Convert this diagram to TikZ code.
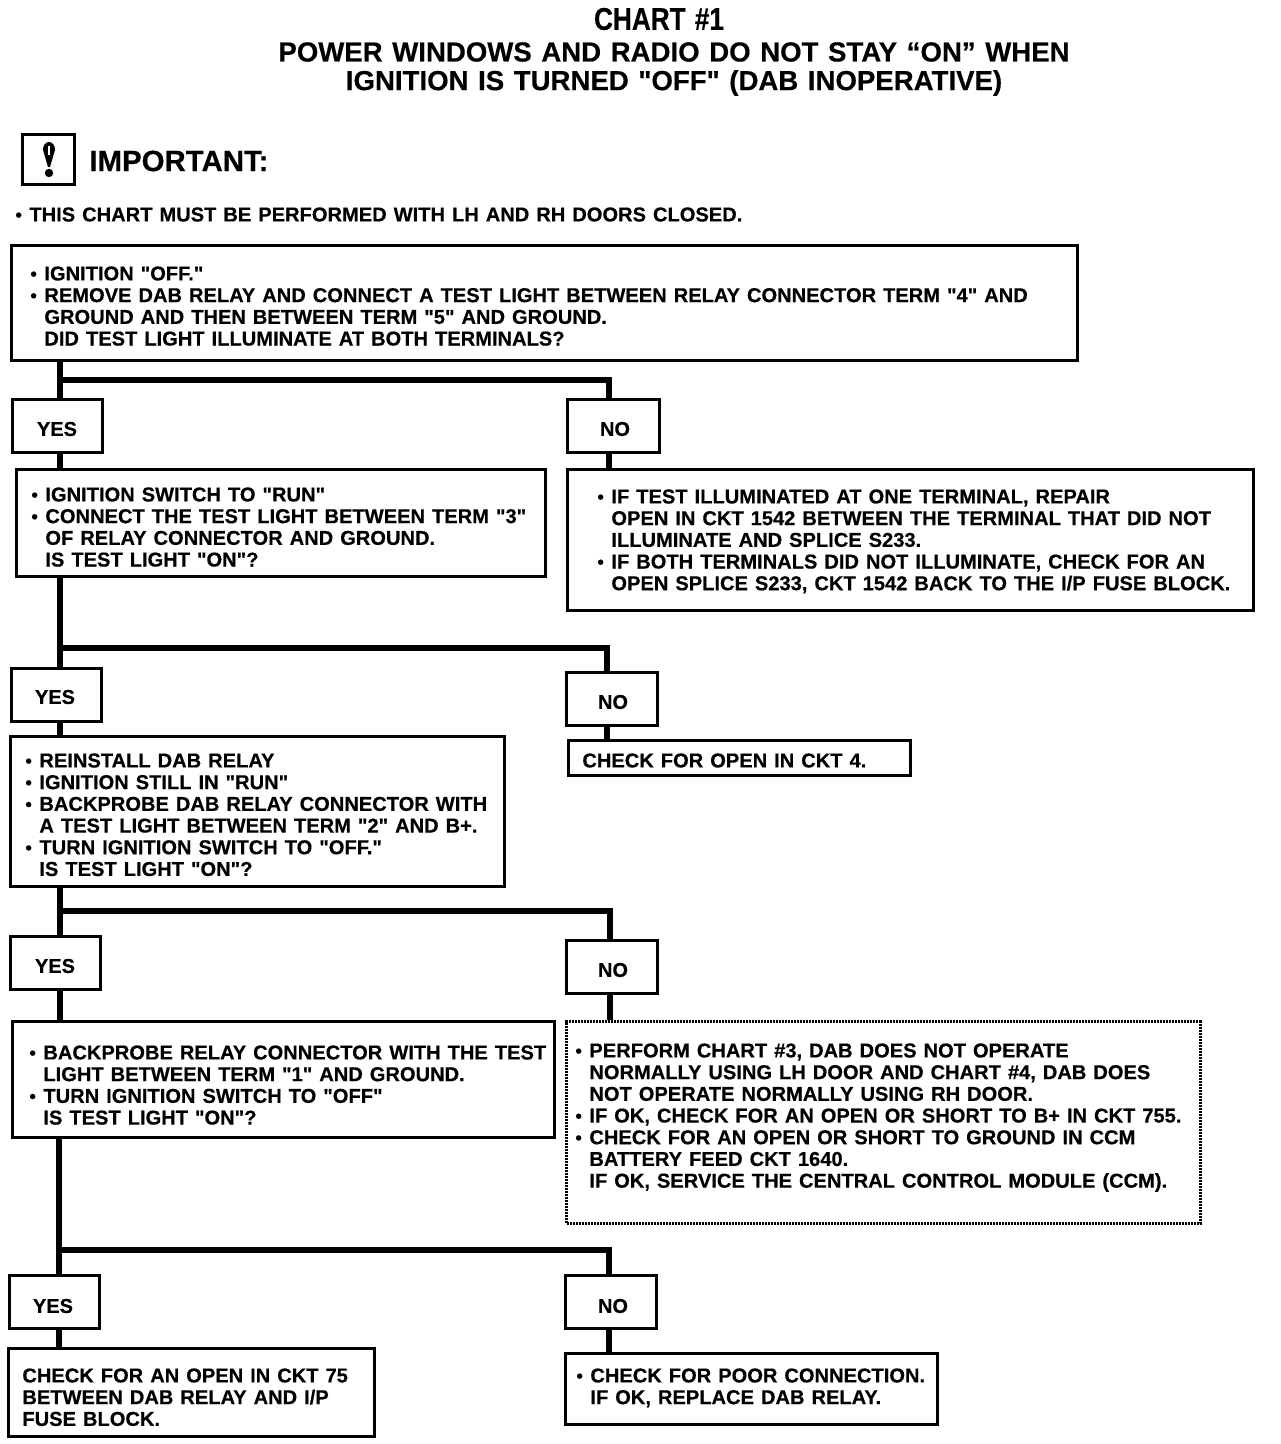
\documentclass[tikz,border=0pt]{standalone}
\usepackage{fontspec}
\setmainfont[Ligatures=TeXOff,WordSpace=1.25,BoldFeatures={FakeBold=0.4}]{Liberation Sans}
\newcommand{\bl}{\makebox[7pt][l]{\raisebox{0.1pt}{\scalebox{0.92}{•}}}}
\newcommand{\ind}{\hspace*{7pt}}
\newcommand{\bx}[6][boxed]{\node[#1,minimum width={(#5-#3-1.5)*0.5pt},minimum height={(#6-#4-1.5)*0.5pt}] (#2) at ({(#3+#5)/2},{(#4+#6)/2}) {};}
\tikzset{
  boxed/.style={draw=black,line width=1.5pt,inner sep=0pt,fill=white},
  dotbox/.style={boxed,line width=1.5pt,dash pattern=on 1pt off 0.5pt},
  conn/.style={draw=black,line width=2.8pt,line cap=butt,line join=miter},
  body/.style={anchor=north west,inner sep=0pt,align=left,font=\bfseries\fontsize{10.05pt}{10.85pt}\selectfont},
  tag/.style={inner sep=0pt,font=\bfseries\fontsize{10pt}{10.85pt}\selectfont},
  head/.style={inner sep=0pt,font=\bfseries\fontsize{13.8pt}{16pt}\selectfont},
}
\begin{document}
\begin{tikzpicture}[x=0.5pt,y=-0.5pt]
\useasboundingbox (0,0) rectangle (1280,1444);
% headings
\node[head,font=\bfseries\fontsize{13.1pt}{18pt}\selectfont] (t1) at (659,19) {\scalebox{1}[1.2]{CHART \#1}};
\node[head] (t2) at (674,52) {POWER WINDOWS AND RADIO DO NOT STAY “ON” WHEN};
\node[head] (t3) at (674,83) {IGNITION IS TURNED "OFF" (DAB INOPERATIVE)};
% important
\bx{icon}{22}{134}{75}{185}
\fill[black] (49,142) .. controls (53,142) and (55,146) .. (55,150) -- (50,167) -- (48,167) -- (43,150) .. controls (43,146) and (45,142) .. (49,142) -- cycle;
\draw[white,line width=0.8pt] (49,146) -- (49,155);
\fill[black] (49,173) circle[radius=4.2];
\node[head,anchor=west,font=\bfseries\fontsize{14.7pt}{18pt}\selectfont] (imp) at (89,161) {IMPORTANT:};
\node[body] (note) at (15,207) {\bl THIS CHART MUST BE PERFORMED WITH LH AND RH DOORS CLOSED.};
% coordinates of the branches
\coordinate (j1) at (60,380); \coordinate (k1) at (609,380);
\coordinate (j2) at (60,648); \coordinate (k2) at (607,648);
\coordinate (j3) at (60,911); \coordinate (k3) at (610,911);
\coordinate (j4) at (59,1250); \coordinate (k4) at (609,1250);
% boxes
\bx{qa}{11}{245}{1078}{361}
\bx{ya}{12}{399}{103}{453}
\bx{na}{567}{399}{660}{453}
\bx{qb}{16}{469}{546}{577}
\bx{ra}{567}{469}{1254}{611}
\bx{yb}{11}{668}{102}{722}
\bx{nb}{566}{672}{658}{726}
\bx{qc}{10}{736}{505}{887}
\bx{rb}{568}{740}{911}{776}
\bx{yc}{10}{936}{101}{990}
\bx{nc}{566}{940}{658}{994}
\bx{qd}{12}{1021}{555}{1138}
\bx[dotbox]{rc}{566}{1021}{1201}{1224}
\bx{yd}{9}{1275}{100}{1329}
\bx{nd}{565}{1275}{657}{1329}
\bx{re}{8}{1348}{375}{1437}
\bx{rd}{565}{1353}{938}{1425}
% connectors
\draw[conn] (j1 |- qa.south) -- (j1 |- ya.north);
\draw[conn] (j1) -- (k1) -- (k1 |- na.north);
\draw[conn] (j1 |- ya.south) -- (j1 |- qb.north);
\draw[conn] (k1 |- na.south) -- (k1 |- ra.north);
\draw[conn] (j2 |- qb.south) -- (j2 |- yb.north);
\draw[conn] (j2) -- (k2) -- (k2 |- nb.north);
\draw[conn] (j2 |- yb.south) -- (j2 |- qc.north);
\draw[conn] (k2 |- nb.south) -- (k2 |- rb.north);
\draw[conn] (j3 |- qc.south) -- (j3 |- yc.north);
\draw[conn] (j3) -- (k3) -- (k3 |- nc.north);
\draw[conn] (j3 |- yc.south) -- (j3 |- qd.north);
\draw[conn] (k3 |- nc.south) -- (k3 |- rc.north);
\draw[conn] (j4 |- qd.south) -- (j4 |- yd.north);
\draw[conn] (j4) -- (k4) -- (k4 |- nd.north);
\draw[conn] (j4 |- yd.south) -- (j4 |- re.north);
\draw[conn] (k4 |- nd.south) -- (k4 |- rd.north);
% tags
\node[tag] (tya) at (57,429) {YES};
\node[tag] (tna) at (615,429) {NO};
\node[tag] (tyb) at (55,697) {YES};
\node[tag] (tnb) at (613,702) {NO};
\node[tag] (tyc) at (55,966) {YES};
\node[tag] (tnc) at (613,970) {NO};
\node[tag] (tyd) at (53,1306) {YES};
\node[tag] (tnd) at (613,1306) {NO};
% texts
\node[body] (xqa) at (30,266) {\bl IGNITION "OFF."\\\bl REMOVE DAB RELAY AND CONNECT A TEST LIGHT BETWEEN RELAY CONNECTOR TERM "4" AND\\\ind GROUND AND THEN BETWEEN TERM "5" AND GROUND.\\\ind DID TEST LIGHT ILLUMINATE AT BOTH TERMINALS?};
\node[body] (xqb) at (31,487) {\bl IGNITION SWITCH TO "RUN"\\\bl CONNECT THE TEST LIGHT BETWEEN TERM "3"\\\ind OF RELAY CONNECTOR AND GROUND.\\\ind IS TEST LIGHT "ON"?};
\node[body] (xra) at (597,489) {\bl IF TEST ILLUMINATED AT ONE TERMINAL, REPAIR\\\ind OPEN IN CKT 1542 BETWEEN THE TERMINAL THAT DID NOT\\\ind ILLUMINATE AND SPLICE S233.\\\bl IF BOTH TERMINALS DID NOT ILLUMINATE, CHECK FOR AN\\\ind OPEN SPLICE S233, CKT 1542 BACK TO THE I/P FUSE BLOCK.};
\node[body] (xqc) at (25,753) {\bl REINSTALL DAB RELAY\\\bl IGNITION STILL IN "RUN"\\\bl BACKPROBE DAB RELAY CONNECTOR WITH\\\ind A TEST LIGHT BETWEEN TERM "2" AND B+.\\\bl TURN IGNITION SWITCH TO "OFF."\\\ind IS TEST LIGHT "ON"?};
\node[body] (xrb) at (582,753) {CHECK FOR OPEN IN CKT 4.};
\node[body] (xqd) at (29,1045) {\bl BACKPROBE RELAY CONNECTOR WITH THE TEST\\\ind LIGHT BETWEEN TERM "1" AND GROUND.\\\bl TURN IGNITION SWITCH TO "OFF"\\\ind IS TEST LIGHT "ON"?};
\node[body] (xrc) at (575,1043) {\bl PERFORM CHART \#3, DAB DOES NOT OPERATE\\\ind NORMALLY USING LH DOOR AND CHART \#4, DAB DOES\\\ind NOT OPERATE NORMALLY USING RH DOOR.\\\bl IF OK, CHECK FOR AN OPEN OR SHORT TO B+ IN CKT 755.\\\bl CHECK FOR AN OPEN OR SHORT TO GROUND IN CCM\\\ind BATTERY FEED CKT 1640.\\\ind IF OK, SERVICE THE CENTRAL CONTROL MODULE (CCM).};
\node[body] (xre) at (22,1368) {CHECK FOR AN OPEN IN CKT 75\\BETWEEN DAB RELAY AND I/P\\FUSE BLOCK.};
\node[body] (xrd) at (576,1368) {\bl CHECK FOR POOR CONNECTION.\\\ind IF OK, REPLACE DAB RELAY.};
\end{tikzpicture}
\end{document}
